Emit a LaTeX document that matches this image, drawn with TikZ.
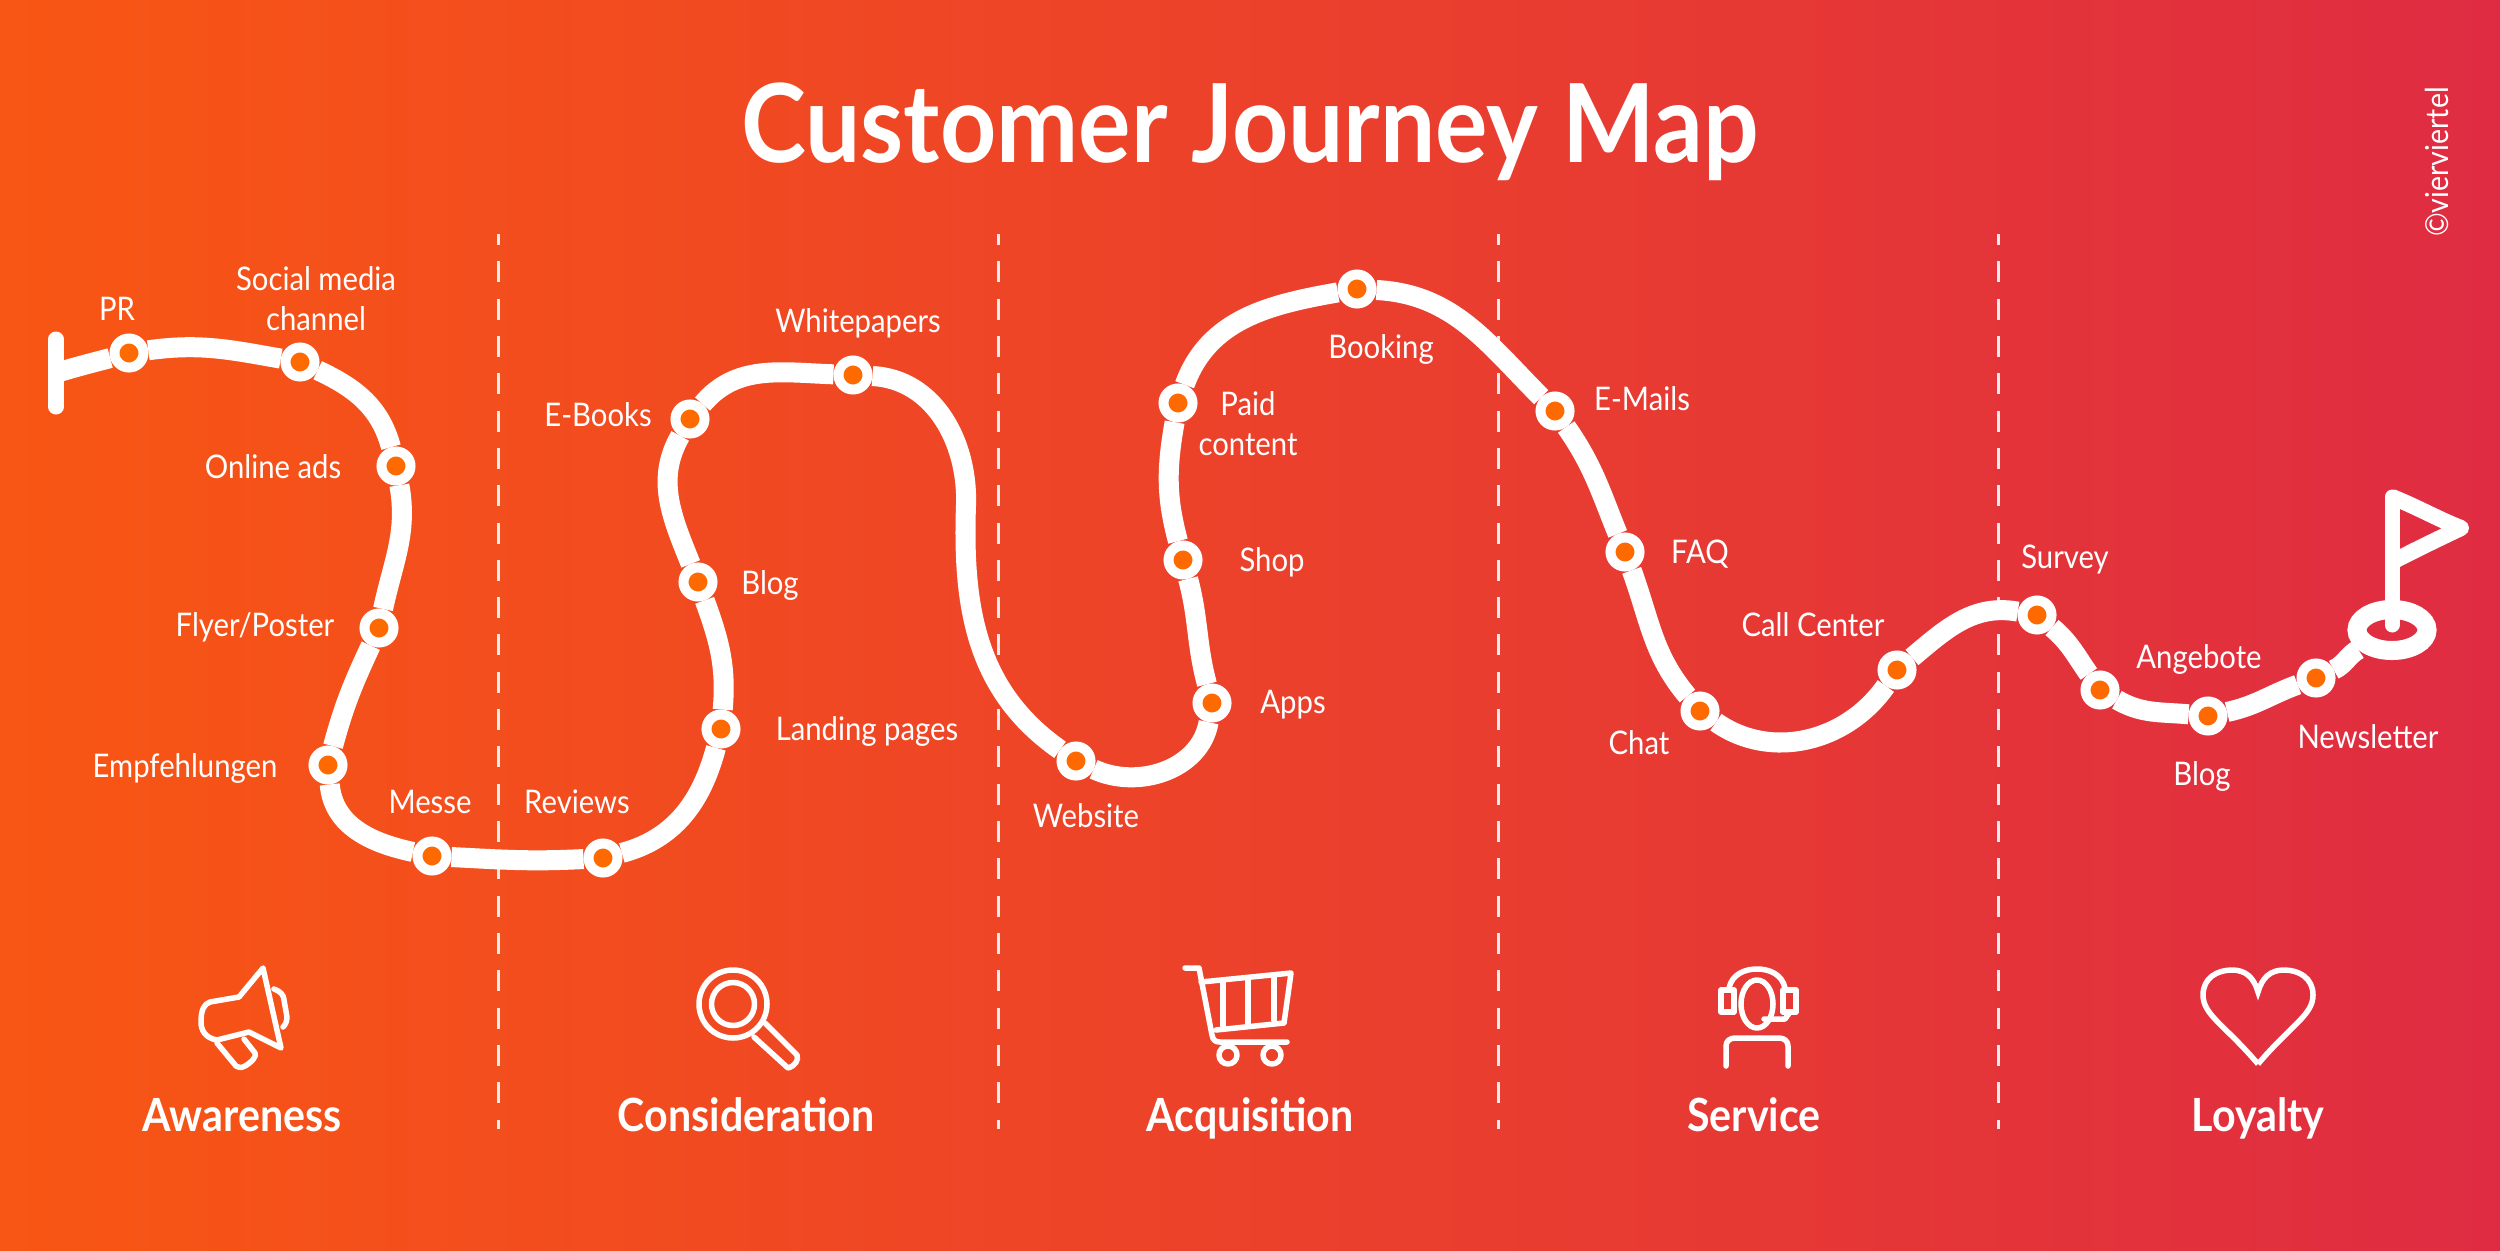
\documentclass[tikz,border=0pt]{standalone}
\usepackage{fontspec}
\setmainfont[FakeStretch=0.9]{Lato}
\usetikzlibrary{shapes.geometric}
\definecolor{bgleft}{RGB}{248,86,20}
\definecolor{bgright}{RGB}{223,44,66}
\definecolor{dotcol}{RGB}{255,106,0}
\tikzset{
  routept/.style={circle,draw=white,fill=dotcol,line width=1mm,minimum size=2.9mm,inner sep=0pt},
  route/.style={draw=white,line width=2mm},
  lab/.style={text=white,font=\fontsize{9.25}{11.3}\selectfont,align=center,inner sep=0pt},
  phase/.style={text=white,font=\fontsize{13}{15}\selectfont\bfseries,anchor=base,inner sep=0pt},
  icon/.style={draw=white,line width=0.55mm,line join=round,line cap=round},
  divider/.style={draw=white!92!black,line width=0.3mm,dash pattern=on 5.97pt off 4.64pt,dash phase=2.84pt}
}
\begin{document}
\begin{tikzpicture}[x=0.01cm,y=0.01cm]
\useasboundingbox (0,0) rectangle (2500,1250);
\shade[left color=bgleft,right color=bgright] (0,0) rectangle (2500,1250);

\node[text=white,font=\fontsize{31}{34}\selectfont\bfseries,inner sep=0pt] (title) at (1250,1118) {Customer Journey Map};
\node[text=white,font=\fontsize{9}{10}\selectfont,rotate=90,inner sep=0pt] (copy) at (2437,1088) {©vierviertel};

\foreach \x in {498,998,1498,1998} {
  \coordinate (top\x) at (\x,1016);
  \coordinate (bot\x) at (\x,121);
  \draw[divider] (top\x) -- (bot\x);
}

\coordinate (start) at (56,877);
\coordinate (startA) at (56,911);
\coordinate (startB) at (56,843);
\coordinate (bendA) at (966,745);
\node[routept] (pr) at (129,897) {};
\node[routept] (social) at (300,888) {};
\node[routept] (online) at (396,784) {};
\node[routept] (flyer) at (379,622) {};
\node[routept] (empf) at (328,485) {};
\node[routept] (messe) at (432,394) {};
\node[routept] (reviews) at (603,392) {};
\node[routept] (landing) at (721,521) {};
\node[routept] (blog) at (698,668) {};
\node[routept] (ebooks) at (690,831) {};
\node[routept] (white) at (853,875) {};
\node[routept] (website) at (1076,489) {};
\node[routept] (apps) at (1212,547) {};
\node[routept] (shop) at (1183,690) {};
\node[routept] (paid) at (1178,847) {};
\node[routept] (booking) at (1357,961) {};
\node[routept] (emails) at (1555,839) {};
\node[routept] (faq) at (1625,698) {};
\node[routept] (chat) at (1700,539) {};
\node[routept] (call) at (1897,580) {};
\node[routept] (survey) at (2037,635) {};
\node[routept] (offers) at (2100,560) {};
\node[routept] (blogB) at (2208,534) {};
\node[routept] (news) at (2316,572) {};
\node[ellipse,draw=white,line width=1.9mm,minimum width=0.7cm,minimum height=0.41cm,inner sep=0pt] (ring) at (2392,620) {};

\draw[route] (start) to[out=17,in=195] (pr) to[out=8,in=170] (social)
  to[out=-25,in=105] (online) to[out=-80,in=78] (flyer) to[out=-115,in=75] (empf)
  to[out=-85,in=168] (messe) to[out=-3,in=183] (reviews) to[out=15,in=-105] (landing)
  to[out=85,in=-70] (blog) to[out=112,in=-120] (ebooks) to[out=50,in=178] (white)
  to[out=-3,in=88] (bendA) to[out=-92,in=145] (website) to[out=-25,in=-100] (apps)
  to[out=105,in=-75] (shop) to[out=105,in=-100] (paid) to[out=70,in=190] (booking)
  to[out=-3,in=135] (emails) to[out=-55,in=112] (faq) to[out=-70,in=130] (chat)
  to[out=-35,in=-125] (call) to[out=40,in=170] (survey) to[out=-40,in=125] (offers)
  to[out=-30,in=175] (blogB) to[out=12,in=-160] (news) to[out=25,in=-150] (ring);
\draw[white,line width=1.5mm,line cap=round] (startA) -- (startB);

\coordinate (poleB) at (2392,625);
\coordinate (poleT) at (2392,753);
\coordinate (flagTip) at (2461,722);
\coordinate (flagB) at (2392,688);
\draw[white,line width=1.5mm,line cap=round] (poleB) -- (poleT);
\draw[white,line width=1.6mm,line join=round] (poleT) .. controls (2415,744) and (2440,730) .. (flagTip) .. controls (2440,712) and (2415,700) .. (flagB);

\node[lab] (tPr) at (117,941) {PR};
\node[lab] (tSocial) at (316,951) {Social media\\channel};
\node[lab] (tOnline) at (273,783) {Online ads};
\node[lab] (tFlyer) at (255,623) {Flyer/Poster};
\node[lab] (tEmpf) at (185,482) {Empfehlungen};
\node[lab] (tMesse) at (430,448) {Messe};
\node[lab] (tReviews) at (577,448) {Reviews};
\node[lab] (tLanding) at (867,519) {Landing pages};
\node[lab] (tBlog) at (770,665) {Blog};
\node[lab] (tEbooks) at (598,835) {E-Books};
\node[lab] (tWhite) at (858,927) {Whitepapers};
\node[lab] (tWebsite) at (1086,434) {Website};
\node[lab] (tApps) at (1293,545) {Apps};
\node[lab] (tShop) at (1272,688) {Shop};
\node[lab] (tPaid) at (1248,826) {Paid\\content};
\node[lab] (tBooking) at (1381,901) {Booking};
\node[lab] (tEmails) at (1642,851) {E-Mails};
\node[lab] (tFaq) at (1700,696) {FAQ};
\node[lab] (tCall) at (1813,625) {Call Center};
\node[lab] (tChat) at (1639,507) {Chat};
\node[lab] (tSurvey) at (2065,691) {Survey};
\node[lab] (tOffers) at (2199,591) {Angebote};
\node[lab] (tBlogB) at (2202,474) {Blog};
\node[lab] (tNews) at (2368,513) {Newsletter};

\node[phase] (pAware) at (242,119) {Awareness};
\node[phase] (pConsid) at (746,119) {Consideration};
\node[phase] (pAcq) at (1250,119) {Acquisition};
\node[phase] (pServ) at (1754,119) {Service};
\node[phase] (pLoyal) at (2258,119) {Loyalty};

\draw[icon] (263,282) -- (281,202) -- (249,218) -- (217,210) .. controls (205,212) and (201,220) .. (201,228) .. controls (201,240) and (204,246) .. (210,248) -- (239,253) -- cycle;
\draw[icon] (274,261) .. controls (280,259) and (284,255) .. (284,250) -- (287,233) .. controls (287,228) and (285,225) .. (283,223);
\draw[icon] (217,207) -- (236,184) .. controls (240,182) and (243,182) .. (245,184) .. controls (252,188) and (257,194) .. (255,197) -- (244,211);

\draw[icon] (733,246) ellipse (34 and 34);
\draw[icon] (733,246) ellipse (21.5 and 21.5);
\draw[icon] (765,227) -- (797,195) .. controls (799,190) and (795,184) .. (788,182) -- (754,213);

\draw[icon] (1185,282) -- (1199,282) -- (1212,215) .. controls (1213,210) and (1215,208) .. (1220,208) -- (1287,208);
\draw[icon] (1201,268) -- (1291,277) -- (1284,227) -- (1216,220);
\foreach \x/\a/\b in {1223/269/224,1248/270/227,1274/273/230}
  \draw[icon] (\x,\a) -- (\x,\b);
\draw[icon] (1228,195) circle (9);
\draw[icon] (1272,195) circle (9);

\draw[icon] (1757,246) ellipse (16 and 24);
\draw[icon] (1729,262) .. controls (1732,276) and (1745,281) .. (1757,281) .. controls (1769,281) and (1782,276) .. (1785,262);
\draw[icon] (1721,238) rectangle (1734,260);
\draw[icon] (1783,238) rectangle (1796,260);
\draw[icon] (1790,238) -- (1785,231) -- (1764,231);
\draw[icon] (1726,184) -- (1726,204) .. controls (1726,209) and (1730,212) .. (1735,212) -- (1779,212) .. controls (1784,212) and (1788,209) .. (1788,204) -- (1788,184);

\draw[icon,line cap=butt,line join=miter] (2258,186) .. controls (2225,225) and (2203,235) .. (2203,255) .. controls (2203,272) and (2217,280) .. (2232,280) .. controls (2246,280) and (2254,272) .. (2258,258) .. controls (2262,272) and (2270,280) .. (2284,280) .. controls (2299,280) and (2313,272) .. (2313,255) .. controls (2313,235) and (2291,225) .. (2258,186);
\end{tikzpicture}
\end{document}
